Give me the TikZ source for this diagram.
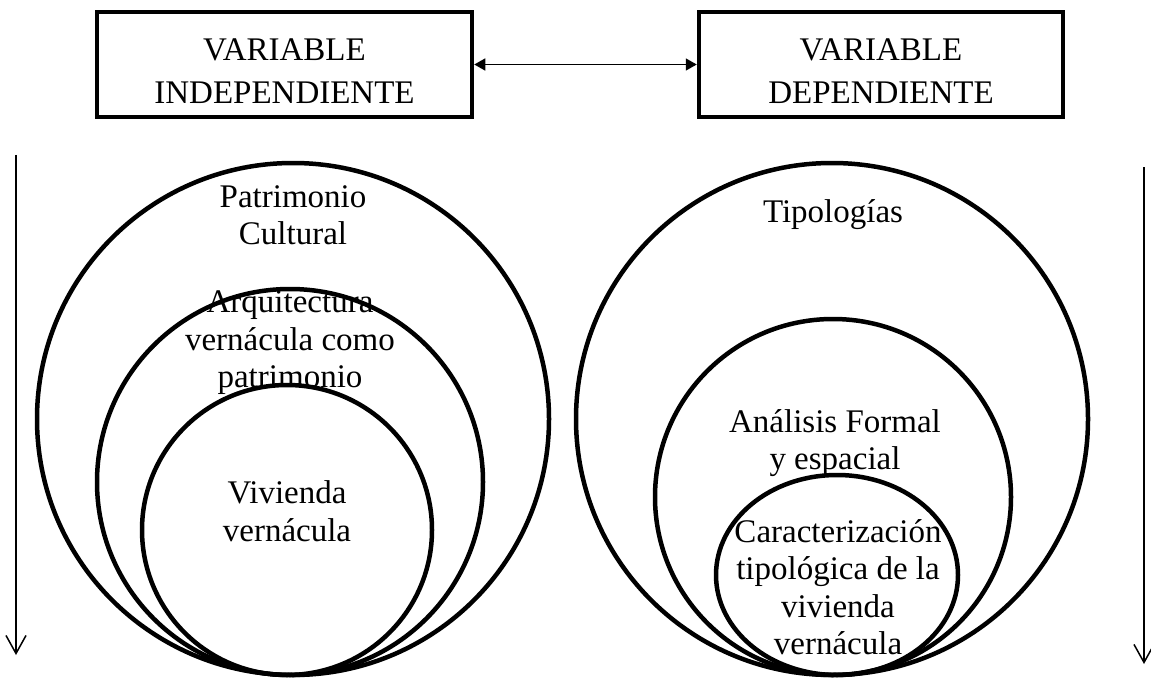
\documentclass[tikz,border=0pt]{standalone}
\usepackage{fontspec}
\setmainfont{Liberation Serif}
\usetikzlibrary{arrows.meta,shapes.geometric}
\begin{document}
\begin{tikzpicture}[x=1pt,y=-1pt,
  varbox/.style={draw, line width=4.5pt, rectangle, inner sep=0pt, minimum height=105pt},
  ring/.style={draw, line width=4.5pt, circle, inner sep=0pt},
  oval/.style={draw, line width=4.5pt, ellipse, inner sep=0pt},
  boxtext/.style={align=center, font=\fontsize{33}{43}\selectfont, inner sep=0pt},
  ringtext/.style={align=center, font=\fontsize{33}{37.5}\selectfont, inner sep=0pt},
  linkarrow/.style={line width=1.5pt, {Triangle[length=11pt,width=12pt]}-{Triangle[length=11pt,width=12pt]}},
  downarrow/.style={line width=1.5pt, -{Straight Barb[length=18pt,width=20pt,line width=1.5pt]}}]
\useasboundingbox (0,0) rectangle (1151,682);
\fill[white] (0,0) rectangle (1151,682);
% boxes
\node[varbox, minimum width=375pt] (lbox) at (284.5,64.5) {};
\node[varbox, minimum width=364pt] (rbox) at (881,64.5) {};
\node[boxtext] (ltext) at (284.5,71.5) {VARIABLE\\INDEPENDIENTE};
\node[boxtext] (rtext) at (881,71.5) {VARIABLE\\DEPENDIENTE};
\draw[linkarrow] (lbox.east) -- (rbox.west);
% left circles
\node[ring, minimum size=512pt] (lbig) at (293,419) {};
\node[ring, minimum size=386pt] (lmid) at (290,482) {};
\node[ring, minimum size=290pt] (lsmall) at (287,530) {};
% right circles
\node[ring, minimum size=512pt] (rbig) at (832,419) {};
\node[ring, minimum size=356pt] (rmid) at (833,497) {};
\node[oval, minimum width=242pt, minimum height=200pt] (rsmall) at (837,575) {};
% texts
\node[ringtext] (t1) at (293,215) {Patrimonio\\Cultural};
\node[ringtext] (t2) at (290,343) {Arquitectura\\vernácula como\\patrimonio};
\node[ringtext] (t3) at (287,511) {Vivienda\\vernácula};
\node[ringtext] (t4) at (833,215) {Tipologías};
\node[ringtext] (t5) at (835,443) {Análisis Formal\\y espacial};
\node[ringtext] (t6) at (838,587) {Caracterización\\tipológica de la\\vivienda\\vernácula};
% side arrows
\coordinate (la1) at (16,155);
\coordinate (la2) at (16,655);
\coordinate (ra1) at (1144,167);
\coordinate (ra2) at (1144,664);
\draw[downarrow] (la1) -- (la2);
\draw[downarrow] (ra1) -- (ra2);
\end{tikzpicture}
\end{document}
